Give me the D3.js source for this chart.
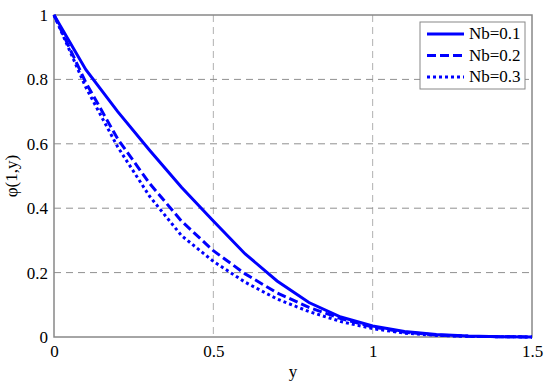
<!DOCTYPE html>
<html>
<head>
<meta charset="utf-8">
<script src="https://cdn.jsdelivr.net/npm/d3@7"></script>
<style>
  body { margin: 0; background: #fff; }
  svg text { font-family: "Times New Roman", "Liberation Serif", Times, serif !important; }
</style>
</head>
<body>
<div id="chart"></div>
<script>
// data
const yValues = [0, 0.1, 0.2, 0.3, 0.4, 0.5, 0.6, 0.7, 0.8, 0.9, 1.0, 1.1, 1.2, 1.3, 1.4, 1.5]
const nb01 = [1, 0.83, 0.70, 0.58, 0.465, 0.36, 0.258, 0.174, 0.107, 0.062, 0.034, 0.017, 0.008, 0.003, 0.001, 0]
const nb02 = [1, 0.79, 0.615, 0.477, 0.36, 0.268, 0.196, 0.137, 0.092, 0.057, 0.031, 0.015, 0.006, 0.002, 0.001, 0]
const nb03 = [1, 0.775, 0.59, 0.437, 0.315, 0.235, 0.17, 0.118, 0.079, 0.048, 0.026, 0.012, 0.005, 0.002, 0.001, 0]
const seriesNames = ["Nb=0.1", "Nb=0.2", "Nb=0.3"]
const xTicks = [0, 0.5, 1, 1.5]
const yTicks = [0, 0.2, 0.4, 0.6, 0.8, 1]

const W = 550, H = 385
const margin = { top: 15, right: 18, bottom: 48, left: 54 }
const width = W - margin.left - margin.right
const height = H - margin.top - margin.bottom
const serif = '"Times New Roman", "Liberation Serif", serif'

const x = d3.scaleLinear().domain([0, 1.5]).range([0, width])
const y = d3.scaleLinear().domain([0, 1]).range([height, 0])

const svg = d3.select("#chart").append("svg")
  .attr("width", W)
  .attr("height", H)
  .attr("font-family", serif)

const g = svg.append("g")
  .attr("transform", "translate(" + margin.left + "," + margin.top + ")")

// grid
g.append("g")
  .selectAll("line")
  .data(xTicks.slice(1, -1))
  .join("line")
    .attr("x1", d => x(d)).attr("x2", d => x(d))
    .attr("y1", 0).attr("y2", height)
    .attr("stroke", "#b0b0b0")
    .attr("stroke-dasharray", "7,5")

g.append("g")
  .selectAll("line")
  .data(yTicks.slice(1, -1))
  .join("line")
    .attr("x1", 0).attr("x2", width)
    .attr("y1", d => y(d)).attr("y2", d => y(d))
    .attr("stroke", "#909090")
    .attr("stroke-dasharray", "7,5")

// axes
const xAxis = g.append("g")
  .attr("transform", "translate(0," + height + ")")
  .call(d3.axisBottom(x).tickValues(xTicks).tickFormat(d3.format("")).tickSize(0).tickPadding(8))
const yAxis = g.append("g")
  .call(d3.axisLeft(y).tickValues(yTicks).tickFormat(d3.format("")).tickSize(0).tickPadding(6))

;[xAxis, yAxis].forEach(a => {
  a.attr("font-family", serif).attr("font-size", 17)
  a.select(".domain").remove()
  a.selectAll("text").attr("fill", "#000")
})

// box
g.append("rect")
  .attr("width", width).attr("height", height)
  .attr("fill", "none")
  .attr("stroke", "#888")
  .attr("stroke-width", 1.5)

// curves
const series = [
  { name: seriesNames[0], values: nb01, dash: null },
  { name: seriesNames[1], values: nb02, dash: "9,4" },
  { name: seriesNames[2], values: nb03, dash: "3,3" }
]

const line = d3.line()
  .x((d, i) => x(yValues[i]))
  .y(d => y(d))

g.selectAll(".curve")
  .data(series)
  .join("path")
    .attr("class", "curve")
    .attr("d", d => line(d.values))
    .attr("fill", "none")
    .attr("stroke", "#0000ff")
    .attr("stroke-width", 3)
    .attr("stroke-dasharray", d => d.dash)

// legend
const lg = g.append("g").attr("transform", "translate(" + (width - 112) + ",7)")
lg.append("rect")
  .attr("width", 105).attr("height", 67)
  .attr("fill", "#fff")
  .attr("stroke", "#888")
  .attr("stroke-width", 1)

series.forEach((s, i) => {
  const yy = 12 + i * 21.5
  lg.append("line")
    .attr("x1", 7).attr("x2", 44)
    .attr("y1", yy).attr("y2", yy)
    .attr("stroke", "#0000ff")
    .attr("stroke-width", 3)
    .attr("stroke-dasharray", s.dash)
  lg.append("text")
    .attr("x", 49).attr("y", yy + 5)
    .attr("font-size", 17)
    .text(s.name)
})

// labels
svg.append("text")
  .attr("x", margin.left + width / 2).attr("y", H - 8)
  .attr("text-anchor", "middle")
  .attr("font-size", 17)
  .text("y")

svg.append("text")
  .attr("transform", "translate(17," + (margin.top + height / 2) + ") rotate(-90)")
  .attr("text-anchor", "middle")
  .attr("font-size", 17)
  .text("\u03c6(1,y)")
</script>
</body>
</html>
